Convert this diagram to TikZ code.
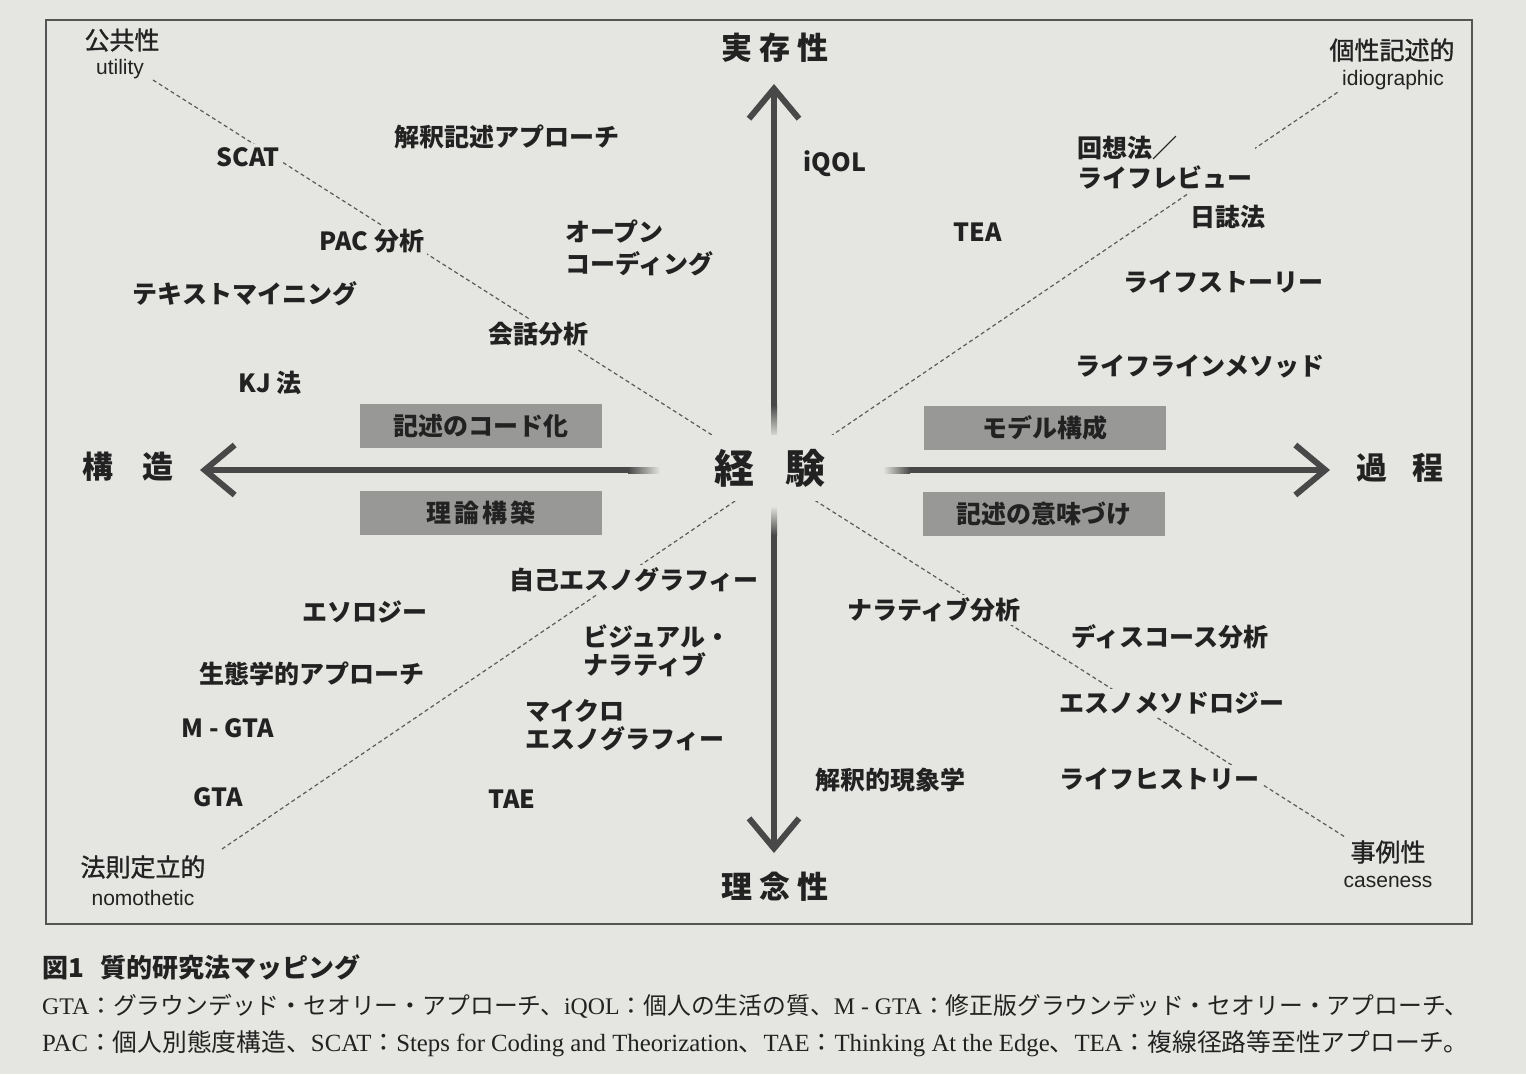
\documentclass[tikz,border=0pt]{standalone}
\usepackage{fontspec}
\usepackage{graphicx}
\setmainfont{Liberation Serif}
\newfontfamily\jp{Noto Sans CJK JP}
\newfontfamily\jpmed[FakeBold=1.2]{Noto Sans CJK JP}
\newfontfamily\lsans{Liberation Sans}
\usetikzlibrary{arrows.meta}
\definecolor{bg}{RGB}{229,229,225}
\definecolor{ink}{RGB}{34,34,34}
\definecolor{axgray}{RGB}{72,72,72}
\definecolor{boxgray}{RGB}{152,152,150}
\definecolor{dashgray}{RGB}{90,90,90}
\definecolor{framegray}{RGB}{85,85,85}
\begin{document}
\begin{tikzpicture}[x=1pt,y=-1pt,
  lab/.style={font=\jp\bfseries\fontsize{25}{30}\selectfont, text=ink, fill=bg, inner sep=3pt},
  labtwo/.style={lab, align=left, anchor=west},
  boxlab/.style={font=\jp\bfseries\fontsize{25}{30}\selectfont, text=ink, fill=boxgray, minimum width=242pt, minimum height=44pt, inner sep=0pt},
  axlab/.style={font=\jp\bfseries\fontsize{31}{36}\selectfont, text=ink, inner sep=2pt},
  corner/.style={font=\jpmed\fontsize{25}{30}\selectfont, text=ink, inner sep=2pt},
  eng/.style={font=\lsans\fontsize{21}{24}\selectfont, text=ink, inner sep=2pt},
  diag/.style={draw=dashgray, line width=1.2pt, dash pattern=on 4pt off 3pt},
  axis/.style={draw=axgray, line width=6pt, -{Straight Barb[length=30pt,width=50pt]}},
  captext/.style={anchor=west, text=ink, inner sep=0pt}
]
\useasboundingbox (0,0) rectangle (1526,1074);
\fill[bg] (0,0) rectangle (1526,1074);
\draw[framegray, line width=1.4pt] (46,20) rectangle (1472,924);

% corner labels
\node[corner] (kokyo) at (122,40) {公共性};
\node[eng] (util) at (120,69) {utility};
\node[corner] (kosei) at (1392,50) {個性記述的};
\node[eng] (idio) at (1393,80) {idiographic};
\node[corner] (hosoku) at (143,867) {法則定立的};
\node[eng] (nomo) at (143,898) {nomothetic};
\node[corner] (jirei) at (1388,852) {事例性};
\node[eng] (case) at (1388,882) {caseness};

% dashed diagonals
\coordinate (d1s) at (153,80);
\coordinate (d1e) at (1345,837);
\coordinate (d2s) at (222,849);
\coordinate (d2e) at (1338,92);
\draw[diag] (d1s) -- (d1e);
\draw[diag] (d2s) -- (d2e);

% axis labels
\node[axlab] (jitsu) at (775,48) {実\hspace{7pt}存\hspace{7pt}性};
\node[axlab] (rinen) at (775,887) {理\hspace{7pt}念\hspace{7pt}性};
\node[axlab] (kozo) at (128,467) {構\hspace{30pt}造};
\node[axlab] (katei) at (1400,468) {過\hspace{26pt}程};

% axis arrows
\coordinate (hLin) at (658,470);
\coordinate (hLtip) at (200,470);
\coordinate (hRin) at (885,470);
\coordinate (hRtip) at (1330,470);
\coordinate (vUin) at (774,436);
\coordinate (vUtip) at (774,84);
\coordinate (vDin) at (774,508);
\coordinate (vDtip) at (774,853);
\draw[axis] (hLin) -- (hLtip);
\draw[axis] (hRin) -- (hRtip);
\draw[axis] (vUin) -- (vUtip);
\draw[axis] (vDin) -- (vDtip);
% fades toward the centre
\shade[left color=axgray, right color=bg] (628,467) rectangle (660,473);
\shade[left color=bg, right color=axgray] (883,467) rectangle (910,473);
\shade[top color=axgray, bottom color=bg] (771,405) rectangle (777,438);
\shade[top color=bg, bottom color=axgray] (771,506) rectangle (777,535);

% centre
\node[font=\jp\bfseries\fontsize{40}{44}\selectfont, text=ink, fill=bg, minimum width=134pt, minimum height=66pt, inner sep=0pt] (keiken) at (770,468) {経\hspace{31pt}験};

% grey boxes
\node[boxlab] (code) at (481,426) {記述のコード化};
\node[boxlab] (riron) at (481,513) {理\hspace{3pt}論\hspace{3pt}構\hspace{3pt}築};
\node[boxlab] (model) at (1045,428) {モデル構成};
\node[boxlab] (imi) at (1044,514) {記述の意味づけ};

% methods, upper left
\node[lab] (scat) at (248,157) {SCAT};
\node[lab] (kaishaku) at (507,137) {解釈記述アプローチ};
\node[lab] (pac) at (372,241) {PAC 分析};
\node[labtwo, font=\jp\bfseries\fontsize{25}{32}\selectfont] (open) at (562,248) {オープン\\コーディング};
\node[lab] (text) at (245,294) {テキストマイニング};
\node[lab] (kaiwa) at (538,334) {会話分析};
\node[lab] (kj) at (270,383) {KJ 法};

% upper right
\node[lab] (iqol) at (835,164) {iQOL};
\node[labtwo] (kaiso) at (1074,163) {回想法／\\ライフレビュー};
\node[lab] (tea) at (978,232) {TEA};
\node[lab] (nisshi) at (1228,217) {日誌法};
\node[lab] (story) at (1223,282) {ライフストーリー};
\node[lab] (line) at (1200,366) {ライフラインメソッド};

% lower left
\node[lab] (jiko) at (634,580) {自己エスノグラフィー};
\node[lab] (etho) at (365,612) {エソロジー};
\node[labtwo, font=\jp\bfseries\fontsize{25}{28}\selectfont] (visual) at (580,651) {ビジュアル・\\ナラティブ};
\node[lab] (seitai) at (312,674) {生態学的アプローチ};
\node[labtwo, font=\jp\bfseries\fontsize{25}{28}\selectfont] (micro) at (522,725) {マイクロ\\エスノグラフィー};
\node[lab] (mgta) at (228,728) {M - GTA};
\node[lab] (gta) at (218,797) {GTA};
\node[lab] (tae) at (512,799) {TAE};

% lower right
\node[lab] (narr) at (934,610) {ナラティブ分析};
\node[lab] (disc) at (1170,637) {ディスコース分析};
\node[lab] (ethno) at (1172,703) {エスノメソドロジー};
\node[lab] (gensho) at (890,780) {解釈的現象学};
\node[lab] (hist) at (1159,779) {ライフヒストリー};

% caption
\node[captext, font=\jp\bfseries\fontsize{26}{30}\selectfont] (title) at (42,967) {図1\hspace{16pt}質的研究法マッピング};
\node[captext] (capa) at (42,1006) {\resizebox{1426pt}{!}{\fontsize{22}{26}\selectfont GTA{\jp：グラウンデッド・セオリー・アプローチ、}iQOL{\jp：個人の生活の質、}M - GTA{\jp：修正版グラウンデッド・セオリー・アプローチ、}}};
\node[captext] (capb) at (42,1044) {\resizebox{1426pt}{!}{\fontsize{22}{26}\selectfont PAC{\jp：個人別態度構造、}SCAT{\jp：}Steps for Coding and Theorization{\jp、}TAE{\jp：}Thinking At the Edge{\jp、}TEA{\jp：複線径路等至性アプローチ。}}};
\end{tikzpicture}
\end{document}
